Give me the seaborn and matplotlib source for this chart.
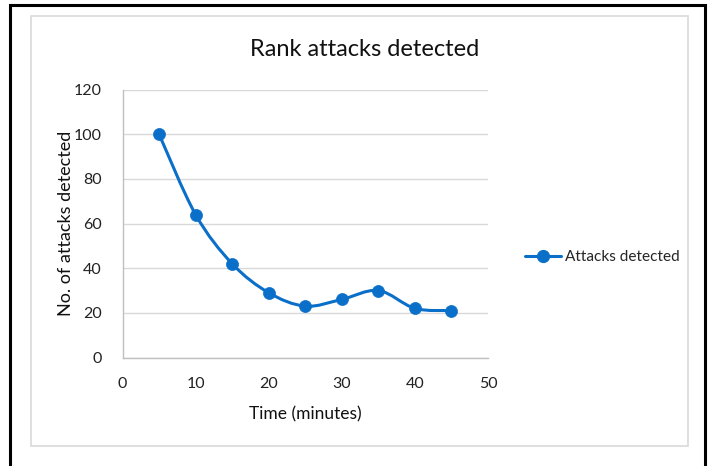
import numpy as np
import matplotlib
matplotlib.use("Agg")
import matplotlib.pyplot as plt
from matplotlib.path import Path
from matplotlib.patches import PathPatch, Rectangle
from matplotlib.lines import Line2D
import seaborn as sns
import pandas as pd

# Detection counts over time
time_minutes = [5, 10, 15, 20, 25, 30, 35, 40, 45]
attacks_detected = [100, 64, 42, 29, 23, 26, 30, 22, 21]
series_name = "Attacks detected"
title = "Rank attacks detected"
x_label = "Time (minutes)"
y_label = "No. of attacks detected"
x_ticks = [0, 10, 20, 30, 40, 50]
y_ticks = [0, 20, 40, 60, 80, 100, 120]

BLUE = "#0A6FC9"
FONT = ["Lato", "DejaVu Sans"]

sns.set_theme(style="white")
plt.rcParams["font.family"] = FONT

df = pd.DataFrame({"time": time_minutes, "attacks": attacks_detected})

W, H = 712, 466
fig = plt.figure(figsize=(W / 100, H / 100), dpi=100)

# outer frame (black) and chart area (light grey)
fig.patches.append(Rectangle((9.5 / W, -0.1), (704.5 - 9.5) / W, 1.1 - 4.5 / H,
                             transform=fig.transFigure, fill=False,
                             edgecolor="black", linewidth=2.2))
fig.patches.append(Rectangle((30.5 / W, 1 - 446 / H), (688 - 30.5) / W, (446 - 15.5) / H,
                             transform=fig.transFigure, fill=False,
                             edgecolor="#d9d9d9", linewidth=1.2))

left, right, top, bottom = 122.5, 488, 89.5, 357.5
ax = fig.add_axes([left / W, 1 - bottom / H, (right - left) / W, (bottom - top) / H])

# smoothed curve (Catmull-Rom style Bezier segments through the points)
pts = np.column_stack([time_minutes, attacks_detected]).astype(float)
verts = [tuple(pts[0])]
codes = [Path.MOVETO]
n = len(pts)
for i in range(n - 1):
    p0 = pts[i - 1] if i > 0 else pts[i]
    p1 = pts[i]
    p2 = pts[i + 1]
    p3 = pts[i + 2] if i + 2 < n else pts[i + 1]
    c1 = p1 + (p2 - p0) / 6.0
    c2 = p2 - (p3 - p1) / 6.0
    verts += [tuple(c1), tuple(c2), tuple(p2)]
    codes += [Path.CURVE4] * 3
ax.add_patch(PathPatch(Path(verts, codes), fill=False, edgecolor=BLUE,
                       linewidth=2.2, capstyle="round", joinstyle="round", zorder=3))

sns.scatterplot(data=df, x="time", y="attacks", ax=ax, color=BLUE, s=75,
                edgecolor=BLUE, linewidth=0.5, zorder=4, legend=False)

ax.set_xlim(0, 50)
ax.set_ylim(0, 120)
ax.set_xticks(x_ticks)
ax.set_yticks(y_ticks)
ax.set_xticklabels([str(v) for v in x_ticks])
ax.set_yticklabels([str(v) for v in y_ticks])
ax.grid(axis="y", color="#d9d9d9", linewidth=1.0)
ax.grid(axis="x", visible=False)
for side in ["top", "right"]:
    ax.spines[side].set_visible(False)
ax.spines["left"].set_color("#bfbfbf")
ax.spines["bottom"].set_color("#bfbfbf")
ax.spines["left"].set_linewidth(1.0)
ax.spines["bottom"].set_linewidth(1.0)
ax.tick_params(axis="both", length=0, labelsize=11.5, colors="#222222")
ax.tick_params(axis="y", pad=15)
ax.tick_params(axis="x", pad=14)
ax.set_xlabel(x_label, fontsize=12.5, color="#111111", labelpad=11)
ax.set_ylabel(y_label, fontsize=13, color="#111111", va="center")
ax.yaxis.set_label_coords((66 - left) / (right - left), 0.5)

fig.text(365 / W, 1 - 49 / H, title, fontsize=17, ha="center", va="center", color="#111111")

handle = Line2D([], [], color=BLUE, linewidth=2.2, marker="o", markersize=8.5)
fig.legend([handle], [series_name], loc="center left",
           bbox_to_anchor=(519 / W, 1 - 257 / H), frameon=False,
           fontsize=11.1, handlelength=2.3, handletextpad=0.3, borderaxespad=0)

fig.savefig("out.png", dpi=100, facecolor="white")
